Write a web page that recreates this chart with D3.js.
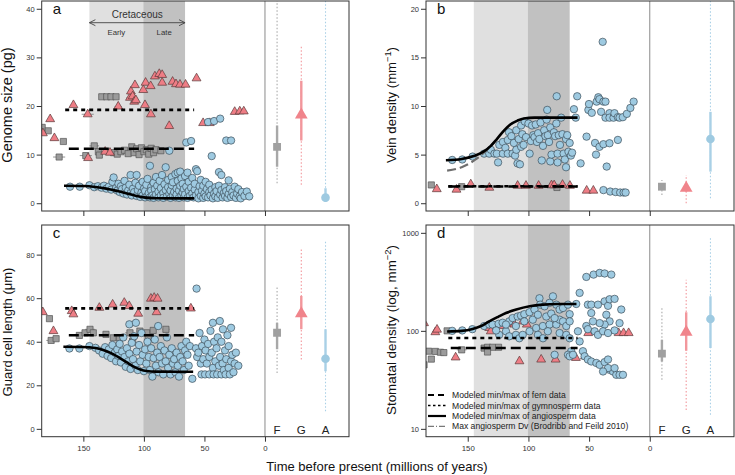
<!DOCTYPE html>
<html><head><meta charset="utf-8">
<script src="https://cdn.jsdelivr.net/npm/d3@7"></script>
<style>body{margin:0;background:#fff}svg{display:block;font-family:"Liberation Sans",Arial,Helvetica,sans-serif}</style>
</head><body><svg id="chart" width="735" height="475"></svg>
<script>
// ---------------- DATA ----------------
const xTicks = [150, 100, 50, 0];
const groupLabels = ["F", "G", "A"];
const groupX = [-10, -30, -50];
const earlyCret = [145, 100.5];
const lateCret = [100.5, 66];

// Panel a: genome size (pg)  [age, value, optional age half-range]
const aAngio = [[161,3.4],[153,3.4],[145,3.7],[141,3.3],[138,3.5],[135,3.2],[133,3.6],[131,3.0],[129,3.4],[127,2.8],[126,4.4],[125,5.3],[123,3.1],[122,2.6],[121,4.0],[120,2.3],[119,3.5],[118,2.9],[117,2.0],[116,4.6],[115,3.2],[114,1.8],[113,2.6],[112,3.8],[111,5.8],[111,2.1],[110,1.6],[109,3.0],[108,2.3],[107,4.2],[106,5.8],[106,1.5],[105,2.7],[104,3.6],[103,1.3],[102,2.2],[101,4.4],[101,1.6],[100,3.0],[99,1.2],[99,2.5],[98,3.8],[97,1.5],[97,5.0],[96,2.1],[95,7.7],[95,1.2],[94,3.3],[94,2.6],[93,1.6],[92,4.2],[92,1.1],[91,2.9],[90,1.8],[90,5.4],[89,3.6],[88,1.2],[88,2.4],[87,4.6],[86,1.6],[86,3.1],[85,5.8],[84,2.1],[84,1.1],[83,3.9],[82,7.4],[82,2.7],[81,1.4],[80,4.8],[80,3.3],[79,1.9],[79,10.8],[78,1.1],[78,2.6],[77,5.4],[77,3.7],[76,1.6],[76,4.3],[75,2.3],[74,1.2],[74,6.0],[73,3.0],[73,1.8],[72,4.6],[72,6.3],[71,2.6],[71,1.1],[70,3.6],[70,6.5],[69,1.6],[69,5.1],[68,2.2],[68,4.0],[67,1.2],[67,2.9],[66,5.6],[66,1.8],[65,3.4],[65,12.5],[64,6.3],[64,1.1],[63,2.5],[63,4.4],[62,1.5],[61,3.2],[61,12.8],[60,2.0],[60,5.2],[59,1.2],[58,2.8],[58,4.0],[57,7.0],[57,1.6],[56,6.6],[55,2.3],[55,1.0],[54,3.5],[53,1.5],[53,4.8],[52,2.6],[51,1.1],[51,3.6],[50,2.0],[49,1.4],[49,4.4],[48,2.9],[47,16.7],[47,1.2],[46,2.3],[46,3.8],[45,1.6],[44,9.7],[44,2.8],[43,1.0],[42,16.9],[42,2.0],[41,3.3],[41,1.4],[40,2.5],[39,1.1],[38,6.4],[38,3.6],[37,17.4],[37,1.8],[36,5.8],[36,2.7],[35,1.2],[34,2.1],[33,3.3],[33,1.5],[32,12.9],[32,2.5],[31,1.1],[30,4.7],[30,1.9],[29,3.0],[28,12.9],[28,1.3],[27,2.3],[26,1.6],[25,3.4],[24,1.1],[23,2.0],[22,2.9],[21,1.4],[20,1.0],[19,2.3],[17,1.5],[15,2.4],[13,1.4]];
const aGymno = [[183.4,14.4],[177.4,17.3],[173.9,13.4],[158.2,20.2],[146.4,18.3,5],[146.1,9.3],[132,10.6],[128,10.4],[121.2,19.9,3],[111.5,21.7,3],[110.7,23],[109.3,22],[107.4,24.3],[108,20.9,3],[106.6,21.2],[100.5,23.3],[99.1,20.2],[98.6,24.8],[94.2,18.3],[94.4,24.1],[90.9,26.1],[87.3,26.6],[84.9,26.4],[84.9,24.8],[79.1,15.9],[76.3,25],[73.5,24.5],[70.2,24.4],[65.6,24.4],[56.5,25.7],[51.1,16.5],[45.6,16.5],[25,18.8],[20.8,18.9],[17.5,18.9]];
const aFern = [[184,15.6],[179,14.9],[170,9.5,5],[166.5,12.7],[148,9.8,5],[141,11.8,4],[137.6,10.6],[136.8,9.9,3],[134.8,21.9],[130.7,21.9],[127.2,21.9],[123,21.9],[125,10.4],[122,10.1],[119,10.6],[116,10.9],[113,10.2],[110,11.6],[108,10.4],[106,11.2],[104,10.0],[102,11.4],[100,10.6],[98,11.0],[96,10.1],[94,11.3],[92,10.4],[90,11.0],[86,10.8]];
const aFernLine = [[162,11.2],[58.5,11.2]];
const aGymnoLine = [[165,19.2],[58.5,19.2]];
const aAngioCurve = [[166,3.6],[150,3.55],[140,3.35],[131,3.0],[122,2.5],[114,2.0],[107,1.55],[100,1.2],[90,1.02],[75,1.0],[58.5,1.0]];
// summary per group: [mean, lo, hi, outerLo, outerHi]
const aSummary = [[11.6,7.5,16,4.1,45],[18.2,12.9,25.2,3.8,32.4],[1.15,0.3,3.1,0.3,45]];

// Panel b: vein density
const bAngio = [[162.8,4.45],[154.5,4.5],[146,4.8],[136.5,5.1],[132.3,5.1],[131,5.5],[128,5.1],[126,5.1],[125,4.2],[124,6.0],[121,5.1],[121,6.3],[119,5.7],[117,5.1],[117,6.5],[116,7.3],[114,6.9],[113,5.1],[112,6.2],[111,4.9],[110,7.5],[110,5.5],[109,4.1],[108,6.6],[107,4.0],[106,8.0],[106,5.8],[105,7.1],[104,6.0],[103,8.4],[102,6.8],[100,8.2],[99,5.1],[98,6.4],[97,8.0],[96,7.0],[95,6.8],[94,8.1],[93,6.3],[92,7.2],[91,6.6],[90,8.3],[89,4.4],[88,5.9],[87,7.5],[86,6.9],[85,8.6],[84.5,9.6],[84,7.0],[83,6.3],[82,4.3],[82,7.8],[81,5.0],[79,7.3],[78,6.9],[77,8.2],[76.7,11.0],[76,4.2],[76,5.1],[75,7.0],[74,6.0],[73,8.8],[72,7.1],[71,5.1],[70,4.5],[69,3.7],[69,6.6],[68,7.0],[67,5.3],[66,6.2],[65,4.9],[64,5.2],[62.5,9.67],[61,8.8],[59.8,11.0],[57,4.1],[52.1,6.85],[50.6,9.6],[50.1,10.2],[47.8,9.3],[45.1,6.2],[44.3,5.0],[43.8,10.45],[42.4,10.9],[41.5,5.8],[41.5,10.7],[40.1,9.4],[38.8,16.6],[38.2,10.45],[38.2,6.07],[36.5,10.45],[36.5,8.8],[35.5,3.77],[33.2,9.26],[33.2,8.8],[33.2,6.17],[29.9,8.8],[29.1,9.26],[26.3,8.85],[26.3,6.51],[24.9,8.8],[22.2,8.85],[18.9,9.19],[16,9.8],[13.3,10.45],[38.2,1.35],[32.6,1.2],[28.2,1.15],[24.4,1.1],[21.6,1.1],[19.9,1.1]];
const bGymno = [[175.5,1.45],[159.3,1.4],[147.5,1.95],[132.2,1.6],[108.9,1.8],[102,1.8],[91.6,1.8],[81,1.85],[78.8,1.85],[71.9,1.9],[65.8,1.8],[52,1.3],[46.5,1.3]];
const bFern = [[180,1.88],[155,1.7],[76.5,1.62]];
const bFernLine = [[166,1.72],[59.5,1.72]];
const bGymnoLine = [[166,1.75],[59.5,1.75]];
const bAngioCurve = [[168,4.42],[155,4.55],[145,4.85],[137,5.3],[131,5.9],[126,6.6],[120,7.5],[114.9,8.1],[109,8.5],[103.8,8.72],[95,8.8],[59.5,8.8]];
const bBrodribbCurve = [[167,3.35],[155,3.7],[143.5,4.5],[135,5.4],[128,6.3]];
const bSummary = [[1.7,1.45,2.0,0.85,2.4],[1.55,1.2,1.9,0,2.9],[6.6,3.25,9.4,0.5,25]];

// Panel c: guard cell length (um)
const cAngio = [[161.5,36.9],[153.3,36.9],[145,38],[140,37.2],[137,36],[134,34.5],[132,37.5],[130,33.5],[129,36.5],[127,32.5],[126,38.5],[124,35],[123,31],[122,36.5],[121,33.5],[120,39],[119,30.5],[118,35.5],[117,42],[116,33],[115,28.5],[114,37],[113,31],[112,48],[112,34.5],[111,27.5],[110,39.5],[109,32],[108,42.5],[107,29],[106.6,48.7],[106,35.5],[105,27],[104,38.5],[103,31],[102,44],[101,34],[100,26.5],[99,36.5],[98,30],[97,40],[96,33],[95,27],[94,37],[93,24],[92,32.5],[91,41],[90,29],[89,35],[88.2,47.2],[88,26],[87,33],[86,38],[85,30],[84,25],[83,36],[82,31],[81,42],[80,28],[79,34],[78,25],[77,37],[76,30],[75,32],[74,26],[73,35],[72,29],[71,24],[70,33],[69,38],[68,31],[67,27],[66,36],[65,40],[64,34],[63,29],[62,38],[60,23],[56.5,64.4],[57,37],[56,33],[55,35],[54,44],[53,30],[52.4,25],[52,38],[51,32],[50,41],[49.5,25],[49,36],[48,30],[47,39],[46,33],[46,25],[45,45],[44,35],[43,48.7],[43,28],[42.5,25],[42,40],[41,31],[40,37],[39.5,25],[39,42],[38,29],[37.3,49.5],[37,33],[36,25],[36,40],[35,30],[34.7,45.7],[34,27],[33,36],[32.5,25],[32,32],[31,43],[30,28],[30,38],[29,25],[28,46.4],[28,31],[27,34],[26,26],[25,30],[24,35],[22,29]];
const cGymno = [[183.5,53.6],[174.7,44.9],[159.6,54.1],[158.2,52.6],[136.8,55.6,3],[125.8,57.1,3],[116.2,57.9,3],[112.1,56.4],[104.7,52.9],[94.2,59.8],[91.5,60.2],[88.7,59.8],[89.5,53.6],[61.2,55.3]];
const cFern = [[178,50.6],[176.6,40.6,4],[172.5,41.4],[153.3,42.9],[148.6,44.1,3],[144.5,45.7,4],[141.8,44.1],[131.3,43.4,3],[125.3,41.8],[120.3,41.8],[111.5,44.1,4],[109.3,40.3],[103.3,44.9,3],[97.7,44.1],[96.4,41.8],[92.3,45.2],[81.8,45.7,3]];
const cFernLine = [[162,43],[58.5,43]];
const cGymnoLine = [[165,55.3],[58.5,55.3]];
const cAngioCurve = [[166.5,37.7],[150,37.6],[144.5,37.4],[137,36.8],[130.7,35.6],[125,34.2],[119.8,32.5],[114,30.5],[108.8,28.7],[103,27.3],[97.8,26.6],[90,26.3],[59.3,26.2]];
const cSummary = [[44.1,36.5,48.7,25.7,65.6],[52.9,45.7,61,31.9,83.2],[32.2,26.5,45.7,8.1,86.3]];

// Panel d: stomatal density (log)
const dAngio = [[162.8,100],[154.5,101],[146.2,104],[136.5,112],[132.3,116],[129.6,116],[124.6,118],[121.3,121],[115.8,125],[113,135],[108.9,140],[106.1,143],[103.4,148],[99.1,155],[95,165],[90.9,215],[90.3,185],[86.7,178],[82.6,193],[79.8,225],[77,185],[74.3,165],[71.5,171],[67.4,185],[66,148],[124.1,91],[118.5,99],[115.8,88],[110.3,91],[107.5,84],[104.7,91],[99.1,99],[93.6,107],[92.2,91],[88.1,112],[82.6,116],[77,116],[74.3,130],[71.5,125],[68.8,112],[66,125],[74.3,95],[68.8,91],[66,84],[64.7,62],[67.4,57],[66,55],[63.3,57],[103.4,125],[96.4,130],[92.2,146],[85.3,140],[81.2,150],[78.4,135],[110.3,112],[118.5,116],[126.6,101],[84,99],[88,84],[78.4,57],[60.6,188],[57.8,244],[52.3,355],[46.3,375],[41.3,390],[37.2,385],[31.7,375],[51,185],[48.2,185],[42.7,185],[37.2,200],[34.4,180],[33.1,210],[29,212],[35.8,146],[33.1,125],[37.2,116],[41.3,120],[46.8,125],[48.2,152],[52.3,112],[51,104],[45.4,99],[42.7,91],[38.5,99],[34.4,95],[29,101],[23.5,165],[24.9,120],[59.2,99],[57.8,78],[55.1,62],[53.7,55],[51,51],[48.2,48.7],[44,47],[41.3,45],[37.2,48],[34.4,51],[33.1,40],[30.3,38.5],[27.6,35.6],[24.9,35.6],[22.1,35.6],[34.4,41.7],[38.5,38.5],[29,41.7]];
const dGymno = [[186,120],[176.7,97],[175.3,103],[160,53.6],[132.3,107],[131,99],[121.3,112],[114.4,118],[111.6,116],[104.7,125],[101.3,116],[107.4,49],[89.5,51],[77.6,51],[60.9,53],[53.4,55],[50.7,95],[25.7,95],[21.6,95],[17.4,95]];
const dFern = [[186,45],[180,51.5],[182.2,62],[176.7,61.7,3],[172.5,60.5],[169.7,60],[167,100],[155,64,4],[136.5,66.7],[133.7,68],[129.6,68,3],[124.6,68],[133.7,60.8]];
const dFernLine = [[164,66.8],[59.5,66.8]];
const dGymnoLine = [[166,84.5],[59.5,84.5]];
const dAngioCurve = [[167,98.6],[155,100],[146,104.5],[139,112],[132.3,125],[125,139],[118.5,152],[110,165],[99,178],[88,185],[77,188],[60.4,188]];
const dSummary = [[58.5,48.7,81,31.7,178],[97,62.7,155,15.6,333],[132,66.8,225,13.9,923]];

const legendLabels = ["Modeled min/max of fern data","Modeled min/max of gymnosperm data","Modeled min/max of angiosperm data","Max angiosperm Dv (Brodribb and Feild 2010)"];

// ---------------- STYLE ----------------
const C = {
  blue:"#9ecae1", blueLine:"#a9d0e6", pink:"#ee7d85", pinkLine:"#f2979c",
  grey:"#9b9b9b", greyLine:"#a8a8a8", early:"#e0e0e0", late:"#c1c1c1", ink:"#333"
};
const svg = d3.select("#chart");
const xDomain = [184.4, -69.4];

const panels = [
  {id:"a", l:41.7, r:349, t:1, b:211, y:d3.scaleLinear().domain([-1.6,41.6]), yt:[0,10,20,30,40], xl:false,
   angio:aAngio, gymno:aGymno, fern:aFern, fl:aFernLine, gl:aGymnoLine, al:aAngioCurve, sum:aSummary},
  {id:"b", l:426, r:734, t:1, b:211, y:d3.scaleLinear().domain([-0.8,20.8]), yt:[0,5,10,15,20], xl:false,
   angio:bAngio, gymno:bGymno, fern:bFern, fl:bFernLine, gl:bGymnoLine, al:bAngioCurve, br:bBrodribbCurve, sum:bSummary},
  {id:"c", l:41.7, r:349, t:225, b:436.7, y:d3.scaleLinear().domain([-3.6,93.6]), yt:[0,20,40,60,80], xl:true,
   angio:cAngio, gymno:cGymno, fern:cFern, fl:cFernLine, gl:cGymnoLine, al:cAngioCurve, sum:cSummary},
  {id:"d", l:426, r:734, t:225, b:436.7, y:d3.scaleLog().domain([Math.pow(10,0.92),Math.pow(10,3.08)]), yt:[10,100,1000], xl:true,
   angio:dAngio, gymno:dGymno, fern:dFern, fl:dFernLine, gl:dGymnoLine, al:dAngioCurve, sum:dSummary}
];

panels.forEach(p => {
  const x = d3.scaleLinear().domain(xDomain).range([p.l, p.r]);
  const y = p.y.range([p.b, p.t]);
  const g = svg.append("g");
  const clipId = "clip-" + p.id;
  svg.append("clipPath").attr("id", clipId).append("rect")
    .attr("x", p.l).attr("y", p.t).attr("width", p.r - p.l).attr("height", p.b - p.t);
  const pg = g.append("g").attr("clip-path", `url(#${clipId})`);

  // Cretaceous bands
  pg.append("rect").attr("x", x(earlyCret[0])).attr("width", x(earlyCret[1]) - x(earlyCret[0]))
    .attr("y", p.t).attr("height", p.b - p.t).attr("fill", C.early);
  pg.append("rect").attr("x", x(lateCret[0])).attr("width", x(lateCret[1]) - x(lateCret[0]))
    .attr("y", p.t).attr("height", p.b - p.t).attr("fill", C.late);
  // zero line
  pg.append("line").attr("x1", x(0)).attr("x2", x(0)).attr("y1", p.t).attr("y2", p.b)
    .attr("stroke", "#8a8a8a").attr("stroke-width", 1);

  // horizontal age error bars
  const errs = [].concat(p.fern, p.gymno, p.angio).filter(d => d.length > 2);
  pg.selectAll(".err").data(errs).join("line")
    .attr("x1", d => x(d[0] + d[2])).attr("x2", d => x(d[0] - d[2]))
    .attr("y1", d => y(d[1])).attr("y2", d => y(d[1]))
    .attr("stroke", "#777").attr("stroke-width", 0.8);

  // fern squares
  pg.selectAll(".fern").data(p.fern).join("path")
    .attr("d", d3.symbol().type(d3.symbolSquare).size(38))
    .attr("transform", d => `translate(${x(d[0])},${y(d[1])})`)
    .attr("fill", C.grey).attr("stroke", "#555").attr("stroke-width", 0.7);
  // gymno triangles
  pg.selectAll(".gym").data(p.gymno).join("path")
    .attr("d", d3.symbol().type(d3.symbolTriangle).size(34))
    .attr("transform", d => `translate(${x(d[0])},${y(d[1])})`)
    .attr("fill", C.pink).attr("stroke", "#5a3a3a").attr("stroke-width", 0.7);
  // angio circles
  pg.selectAll(".ang").data(p.angio).join("circle")
    .attr("cx", d => x(d[0])).attr("cy", d => y(d[1])).attr("r", 3.7)
    .attr("fill", C.blue).attr("stroke", "#3d4f5a").attr("stroke-width", 0.7);

  const line = d3.line().x(d => x(d[0])).y(d => y(d[1]));
  const curve = d3.line().x(d => x(d[0])).y(d => y(d[1])).curve(d3.curveMonotoneX);
  if (p.br) pg.append("path").attr("d", curve(p.br)).attr("fill", "none")
    .attr("stroke", "#6e6e6e").attr("stroke-width", 2.2).attr("stroke-dasharray", "9,4");
  pg.append("path").attr("d", line(p.fl)).attr("fill", "none").attr("stroke", "#000")
    .attr("stroke-width", 2.6).attr("stroke-dasharray", "10,5");
  pg.append("path").attr("d", line(p.gl)).attr("fill", "none").attr("stroke", "#000")
    .attr("stroke-width", 2.6).attr("stroke-dasharray", "4,4");
  pg.append("path").attr("d", curve(p.al)).attr("fill", "none").attr("stroke", "#000")
    .attr("stroke-width", 2.6);

  // summaries
  const sCol = [[C.greyLine, "#a0a0a0"], [C.pinkLine, "#f0848b"], [C.blueLine, "#9ecae1"]];
  p.sum.forEach((s, i) => {
    const gx = x(groupX[i]);
    pg.append("line").attr("x1", gx).attr("x2", gx).attr("y1", y(Math.max(s[3], y.domain()[0]))).attr("y2", y(s[4]))
      .attr("stroke", sCol[i][0]).attr("stroke-width", 1.1).attr("stroke-dasharray", "1.5,2");
    pg.append("line").attr("x1", gx).attr("x2", gx).attr("y1", y(Math.max(s[1], y.domain()[0]))).attr("y2", y(s[2]))
      .attr("stroke", sCol[i][0]).attr("stroke-width", 2.4);
    const sym = [d3.symbolSquare, d3.symbolTriangle, d3.symbolCircle][i];
    const size = [62, 70, 58][i];
    pg.append("path").attr("d", d3.symbol().type(sym).size(size))
      .attr("transform", `translate(${gx},${y(s[0])})`).attr("fill", sCol[i][1]);
  });

  // box
  g.append("rect").attr("x", p.l).attr("y", p.t).attr("width", p.r - p.l).attr("height", p.b - p.t)
    .attr("fill", "none").attr("stroke", C.ink).attr("stroke-width", 1);

  // y axis
  const ya = d3.axisLeft(y).tickValues(p.yt).tickSize(5).tickPadding(2).tickFormat(d3.format("d"));
  const yg = g.append("g").attr("transform", `translate(${p.l},0)`).call(ya);
  yg.select(".domain").remove();
  yg.selectAll("line").attr("stroke", C.ink);
  yg.selectAll("text").attr("font-size", 7.5).attr("fill", C.ink).attr("font-family", "Liberation Sans, Arial, sans-serif");
  // x axis
  const xa = d3.axisBottom(x).tickValues(xTicks).tickSize(5).tickPadding(4).tickFormat(p.xl ? d3.format("d") : "");
  const xg = g.append("g").attr("transform", `translate(0,${p.b})`).call(xa);
  xg.select(".domain").remove();
  xg.selectAll("line").attr("stroke", C.ink);
  xg.selectAll("text").attr("font-size", 7.8).attr("fill", C.ink).attr("font-family", "Liberation Sans, Arial, sans-serif");

  // panel letter
  g.append("text").attr("x", p.l + 11).attr("y", p.t + 13).text(p.id)
    .attr("font-size", 15).attr("fill", "#111");

  // group labels
  if (p.xl) {
    groupLabels.forEach((lab, i) => {
      g.append("text").attr("x", x(groupX[i])).attr("y", p.b - 3).attr("text-anchor", "middle")
        .attr("font-size", 11.5).attr("fill", "#222").text(lab);
    });
  }
  p.x = x; p.yS = y;
});

// Cretaceous annotation on panel a
(function () {
  const p = panels[0], x = p.x;
  const g = svg.append("g").attr("fill", "#333");
  const ay = 22.7, x1 = x(earlyCret[0]), x2 = x(lateCret[1]);
  g.append("line").attr("x1", x1).attr("x2", x2).attr("y1", ay).attr("y2", ay).attr("stroke", "#444").attr("stroke-width", 0.9);
  g.append("path").attr("d", `M${x1 + 6},${ay - 3}L${x1},${ay}L${x1 + 6},${ay + 3}`).attr("fill", "none").attr("stroke", "#444").attr("stroke-width", 0.9);
  g.append("path").attr("d", `M${x2 - 6},${ay - 3}L${x2},${ay}L${x2 - 6},${ay + 3}`).attr("fill", "none").attr("stroke", "#444").attr("stroke-width", 0.9);
  g.append("text").attr("x", (x1 + x2) / 2).attr("y", 18).attr("text-anchor", "middle").attr("font-size", 10).text("Cretaceous");
  g.append("text").attr("x", x((earlyCret[0] + earlyCret[1]) / 2)).attr("y", 35).attr("text-anchor", "middle").attr("font-size", 7.8).text("Early");
  g.append("text").attr("x", x((lateCret[0] + lateCret[1]) / 2)).attr("y", 35).attr("text-anchor", "middle").attr("font-size", 7.8).text("Late");
})();

// Axis titles
function yTitle(cx, cy, fs, parts) {
  const t = svg.append("text").attr("transform", `translate(${cx},${cy}) rotate(-90)`)
    .attr("text-anchor", "middle").attr("font-size", fs).attr("fill", "#111");
  parts.forEach(pt => {
    const ts = t.append("tspan").text(pt[0]);
    if (pt[1]) ts.attr("font-size", fs * 0.7).attr("dy", -5);
    if (pt[2]) ts.attr("dy", 5);
  });
}
yTitle(12, 105, 14.5, [["Genome size (pg)"]]);
yTitle(12, 332, 13, [["Guard cell length (\u03bcm)"]]);
yTitle(396, 105, 13.2, [["Vein density (mm"], ["\u22121", true], [")", false, true]]);
yTitle(396, 330, 13.4, [["Stomatal density (log, mm"], ["\u22122", true], [")", false, true]]);
svg.append("text").attr("x", 377).attr("y", 471).attr("text-anchor", "middle").attr("font-size", 13)
  .attr("fill", "#111").text("Time before present (millions of years)");

// Legend in panel d
(function () {
  const lx1 = 428, lx2 = 446, tx = 452, rows = [395, 405.5, 416, 426.3];
  const styles = [["#000", 1.8, "6,4"], ["#000", 1.5, "2.5,2.5"], ["#000", 2.2, null], ["#444", 0.9, "6,2,1,2"]];
  const g = svg.append("g");
  legendLabels.forEach((lab, i) => {
    const ln = g.append("line").attr("x1", lx1).attr("x2", lx2).attr("y1", rows[i]).attr("y2", rows[i])
      .attr("stroke", styles[i][0]).attr("stroke-width", styles[i][1]);
    if (styles[i][2]) ln.attr("stroke-dasharray", styles[i][2]);
    g.append("text").attr("x", tx).attr("y", rows[i] + 3).attr("font-size", 8.6).attr("fill", "#222").text(lab);
  });
})();
</script>
</body></html>
